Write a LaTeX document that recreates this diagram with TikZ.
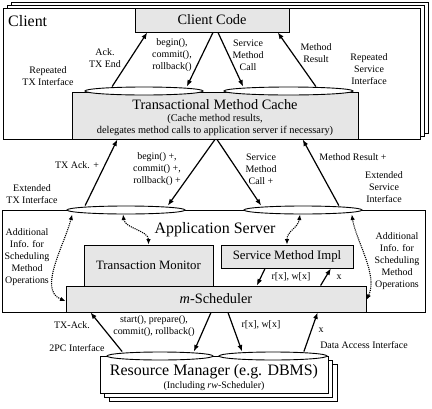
\documentclass[tikz,border=0pt]{standalone}
\usepackage{fontspec}
\setmainfont{Liberation Serif}
\usetikzlibrary{shapes.geometric,arrows.meta}
\definecolor{boxgray}{RGB}{230,230,230}
\tikzset{
  tierbox/.style={draw,fill=white,inner sep=0pt,line width=0.9bp},
  graybox/.style={draw,fill=boxgray,inner sep=0pt,line width=0.9bp},
  port/.style={draw,fill=white,ellipse,inner sep=0pt,minimum height=8bp,line width=0.9bp},
  arr/.style={-{Latex[length=6.5bp,width=5bp]},line width=1.2bp},
  dotarr/.style={{Latex[length=5.5bp,width=4.5bp]}-{Latex[length=5.5bp,width=4.5bp]},densely dotted,line width=1.1bp},
  lbl/.style={align=center,inner sep=0pt,font=\fontsize{10}{12}\selectfont},
  bigfont/.style={inner sep=0pt,font=\fontsize{16}{18}\selectfont},
  titlefont/.style={font=\fontsize{14.4}{16}\selectfont},
  boxfont/.style={font=\fontsize{12.8}{15}\selectfont}
}
\begin{document}
\begin{tikzpicture}[x=1bp,y=-1bp]
\useasboundingbox (0,0) rectangle (432,409);
\node[tierbox,minimum width=417bp,minimum height=131bp] (clientC) at (219.5,67.5) {};
\node[tierbox,minimum width=417bp,minimum height=131bp] (clientB) at (215.5,70.5) {};
\node[tierbox,minimum width=417bp,minimum height=131bp] (client) at (211.5,73.5) {};
\node[bigfont,anchor=west] (clientT) at (8,21) {Client};
\node[graybox,titlefont,minimum width=154bp,minimum height=24bp] (cc) at (212,20) {Client Code};
\node[graybox,minimum width=286bp,minimum height=47bp] (tmc) at (215,115.5) {};
\node[titlefont,inner sep=0pt] (tmcT) at (215,105) {Transactional Method Cache};
\node[align=center,inner sep=0pt,font=\fontsize{10.4}{12}\selectfont] (tmcS) at (215,125)
  {(Cache method results,\\delegates method calls to application server if necessary)};
\node[port,minimum width=118bp] (tcL) at (144,91) {};
\node[port,minimum width=129bp] (tcR) at (288.5,91) {};

\node[tierbox,minimum width=423bp,minimum height=102bp] (app) at (213.5,261) {};
\node[bigfont] (appT) at (215,230) {Application Server};
\node[port,minimum width=118bp] (asL) at (126,210) {};
\node[port,minimum width=118bp] (asR) at (303,210) {};
\node[graybox,boxfont,minimum width=129bp,minimum height=41bp] (tm) at (148.5,265.5) {Transaction Monitor};
\node[graybox,boxfont,minimum width=132bp,minimum height=23bp] (smi) at (287,256.5) {Service Method Impl};
\node[graybox,titlefont,minimum width=300bp,minimum height=26bp] (ms) at (216,299) {\textit{m}-Scheduler};

\node[tierbox,minimum width=228bp,minimum height=37bp] (rmC) at (223,382.5) {};
\node[tierbox,minimum width=228bp,minimum height=37bp] (rmB) at (218.5,378.5) {};
\node[tierbox,minimum width=228bp,minimum height=37bp] (rm) at (214,374.5) {};
\node[bigfont] (rmT) at (214,372) {Resource Manager (e.g. DBMS)};
\node[lbl] (rmS) at (214,386) {(Including \textit{rw}-Scheduler)};
\node[port,minimum width=106bp] (rmL) at (160,356) {};
\node[port,minimum width=108bp] (rmR) at (273,356) {};

\draw[arr] ([xshift=-32]tcL.north) -- ([xshift=-65]cc.south);
\draw[arr] ([xshift=1]cc.south) -- ([xshift=43]tcL.north);
\draw[arr] ([xshift=6]cc.south) -- ([xshift=-45.5]tcR.north);
\draw[arr] ([xshift=27.5]tcR.north) -- ([xshift=66]cc.south);
\node[lbl] (ackEnd) at (105,58) {Ack.\\TX End};
\node[lbl] (txCalls) at (172,55) {begin(),\\commit(),\\rollback()};
\node[lbl] (svcCall) at (248,55) {Service\\Method\\Call};
\node[lbl] (svcRes) at (316,53) {Method\\Result};
\node[lbl] (repTX) at (48,76) {Repeated\\TX Interface};
\node[lbl] (repSvc) at (369,69) {Repeated\\Service\\Interface};

\draw[arr] ([xshift=-41]asL.north) -- ([xshift=-98]tmc.south);
\draw[arr] (tmc.south) -- ([xshift=42]asL.north);
\draw[arr] ([xshift=2]tmc.south) -- ([xshift=-42]asR.north);
\draw[arr] ([xshift=36]asR.north) -- ([xshift=88]tmc.south);
\node[lbl] (txAck) at (77,165) {TX Ack. +};
\node[lbl] (txCallsX) at (157,169) {begin() +,\\commit() +,\\rollback() +};
\node[lbl] (svcCallX) at (261,169) {Service\\Method\\Call +};
\node[lbl] (svcResX) at (353,157) {Method Result +};
\node[lbl] (extTX) at (32,194) {Extended\\TX Interface};
\node[lbl] (extSvc) at (384,187) {Extended\\Service\\Interface};

\draw[dotarr] ([xshift=-54]asL.south) .. controls +(-8,31) and +(-28,-11) .. ([yshift=-2]ms.west);
\draw[dotarr] ([xshift=-3]asL.south) .. controls +(2,14) and +(0,-14) .. (tm.north);
\draw[dotarr] ([xshift=-3]asR.south) .. controls +(-2,14) and +(0,-14) .. (smi.north);
\draw[dotarr] ([xshift=49]asR.south) .. controls +(4,26) and +(12,-25) .. ([yshift=-1]ms.east);
\node[lbl] (infoL) at (27,257) {Additional\\Info. for\\Scheduling\\Method\\Operations};
\node[lbl] (infoR) at (397,261) {Additional\\Info. for\\Scheduling\\Method\\Operations};

\draw[arr] ([xshift=-22]smi.south) -- ([xshift=41]ms.north);
\draw[arr] ([xshift=105]ms.north) -- ([xshift=44]smi.south);
\node[lbl] (rwUp) at (291,277) {r[x], w[x]};
\node[lbl] (xUp) at (339,277) {x};

\draw[arr] ([xshift=-38]rmL.north) -- ([xshift=-126]ms.south);
\draw[arr] ([xshift=-5]ms.south) -- ([xshift=34]rmL.north);
\draw[arr] ([xshift=12]ms.south) -- ([xshift=-31]rmR.north);
\draw[arr] ([xshift=31]rmR.north) -- ([xshift=102]ms.south);
\node[lbl] (pcAck) at (72,325) {TX-Ack.};
\node[lbl] (pcCalls) at (154,326) {start(), prepare(),\\commit(), rollback()};
\node[lbl] (pcIf) at (77,348) {2PC Interface};
\node[lbl] (rwDown) at (261,325) {r[x], w[x]};
\node[lbl] (xDown) at (321,330) {x};
\node[lbl] (daIf) at (364,345) {Data Access Interface};
\end{tikzpicture}
\end{document}
